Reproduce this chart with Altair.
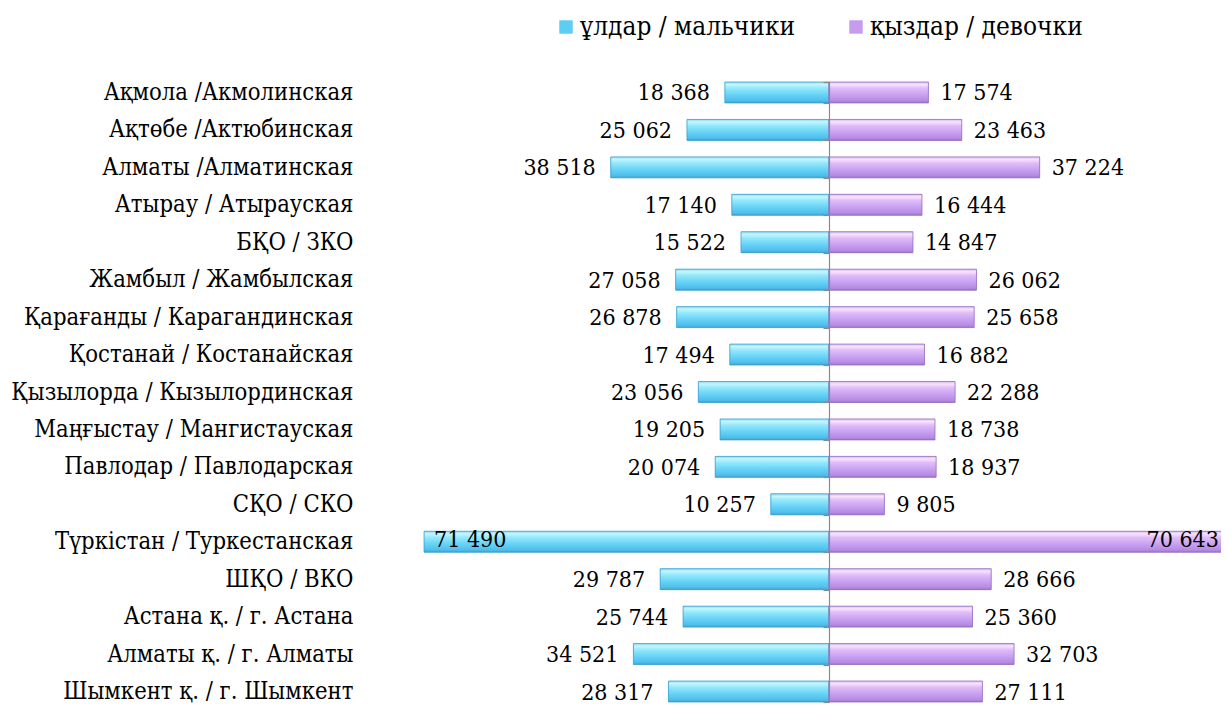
import altair as alt
import pandas as pd

regions = [
    "Ақмола /Акмолинская",
    "Ақтөбе /Актюбинская",
    "Алматы /Алматинская",
    "Атырау / Атырауская",
    "БҚО / ЗКО",
    "Жамбыл / Жамбылская",
    "Қарағанды / Карагандинская",
    "Қостанай / Костанайская",
    "Қызылорда / Кызылординская",
    "Маңғыстау / Мангистауская",
    "Павлодар / Павлодарская",
    "СҚО / СКО",
    "Түркістан / Туркестанская",
    "ШҚО / ВКО",
    "Астана қ. / г. Астана",
    "Алматы қ. / г. Алматы",
    "Шымкент қ. / г. Шымкент",
]
boys = [18368, 25062, 38518, 17140, 15522, 27058, 26878, 17494, 23056,
        19205, 20074, 10257, 71490, 29787, 25744, 34521, 28317]
girls = [17574, 23463, 37224, 16444, 14847, 26062, 25658, 16882, 22288,
         18738, 18937, 9805, 70643, 28666, 25360, 32703, 27111]
series = ["ұлдар / мальчики", "қыздар / девочки"]
colors = ["#5ccdf3", "#c59cee"]


def fmt(v):
    return f"{v:,}".replace(",", " ")


rows = []
for r, b, g in zip(regions, boys, girls):
    rows.append(dict(region=r, series=series[0], x=-b, x0=0, value=b, label=fmt(b)))
    rows.append(dict(region=r, series=series[1], x=g, x0=0, value=g, label=fmt(g)))
df = pd.DataFrame(rows)

FONT = "DejaVu Serif Condensed, DejaVu Serif"
LABEL_FS = 23.6
TEXT_FS = 23
LEG_FS = 26

Y = alt.Y(
    "region:N",
    sort=regions,
    scale=alt.Scale(paddingInner=0.44, paddingOuter=0),
    axis=alt.Axis(
        title=None, orient="left", offset=-405, zindex=2,
        domain=True, domainColor="#8a8a8a", domainWidth=1.2,
        ticks=True, tickBand="extent", tickSize=6, tickColor="#8a8a8a", tickWidth=1.2,
        labelPadding=470, labelFont=FONT, labelFontSize=LABEL_FS, labelColor="black",
        labelLimit=500,
    ),
)
X = alt.X("x:Q", scale=alt.Scale(domain=[-71500, 69245], nice=False, zero=False), axis=None)

base = alt.Chart(df)

bars = base.mark_bar().encode(
    x=X, x2="x0:Q", y=Y,
    color=alt.Color(
        "series:N",
        scale=alt.Scale(domain=series, range=colors),
        legend=alt.Legend(
            title=None, orient="none", direction="horizontal",
            legendX=129, legendY=-68,
            symbolType="square", symbolSize=180, symbolStrokeWidth=1,
            labelFont=FONT, labelFontSize=LEG_FS, labelColor="black",
            labelOffset=1, columnPadding=47, labelLimit=400,
        ),
    ),
)


def grad(stops):
    return alt.Gradient(
        gradient="linear", x1=0, x2=0, y1=0, y2=1,
        stops=[alt.GradientStop(offset=o, color=c) for o, c in stops],
    )


blue_grad = grad([(0, "#8fdcf5"), (0.12, "#c4f6ff"), (0.3, "#93e8fc"),
                  (0.65, "#62d0f5"), (0.9, "#4fbde9"), (1, "#3f9fcc")])
purple_grad = grad([(0, "#d9b8f4"), (0.12, "#f8e4ff"), (0.3, "#e0bcf8"),
                    (0.65, "#c69ef0"), (0.9, "#b58ae2"), (1, "#9a72c4")])

boys_bars = base.mark_bar(color=blue_grad, stroke="#3d9fd0", strokeWidth=0.8).encode(
    x=X, x2="x0:Q", y=Y
).transform_filter(alt.datum.series == series[0])
girls_bars = base.mark_bar(color=purple_grad, stroke="#9470c0", strokeWidth=0.8).encode(
    x=X, x2="x0:Q", y=Y
).transform_filter(alt.datum.series == series[1])

boys_out = base.mark_text(align="right", dx=-15, font=FONT, fontSize=TEXT_FS, color="black",
                          baseline="middle", dy=1).encode(
    x=X, y=Y, text="label:N"
).transform_filter((alt.datum.series == series[0]) & (alt.datum.value < 60000))
girls_out = base.mark_text(align="left", dx=12, font=FONT, fontSize=TEXT_FS, color="black",
                           baseline="middle", dy=1).encode(
    x=X, y=Y, text="label:N"
).transform_filter((alt.datum.series == series[1]) & (alt.datum.value < 60000))
boys_in = base.mark_text(align="left", dx=10, font=FONT, fontSize=TEXT_FS, color="black",
                         baseline="middle", dy=-2).encode(
    x=X, y=Y, text="label:N"
).transform_filter((alt.datum.series == series[0]) & (alt.datum.value >= 60000))
girls_in = base.mark_text(align="right", dx=-10, font=FONT, fontSize=TEXT_FS, color="black",
                          baseline="middle", dy=-2).encode(
    x=X, y=Y, text="label:N"
).transform_filter((alt.datum.series == series[1]) & (alt.datum.value >= 60000))

chart = alt.layer(
    bars, boys_bars, girls_bars,
    boys_out, girls_out, boys_in, girls_in,
).properties(
    width=797, height=620,
    autosize=alt.AutoSizeParams(type="none"),
    padding={"left": 416, "top": 74, "right": 0, "bottom": 4},
).configure_view(stroke=None)

chart.save("out.html", embed_options={"renderer": "svg", "actions": False})
